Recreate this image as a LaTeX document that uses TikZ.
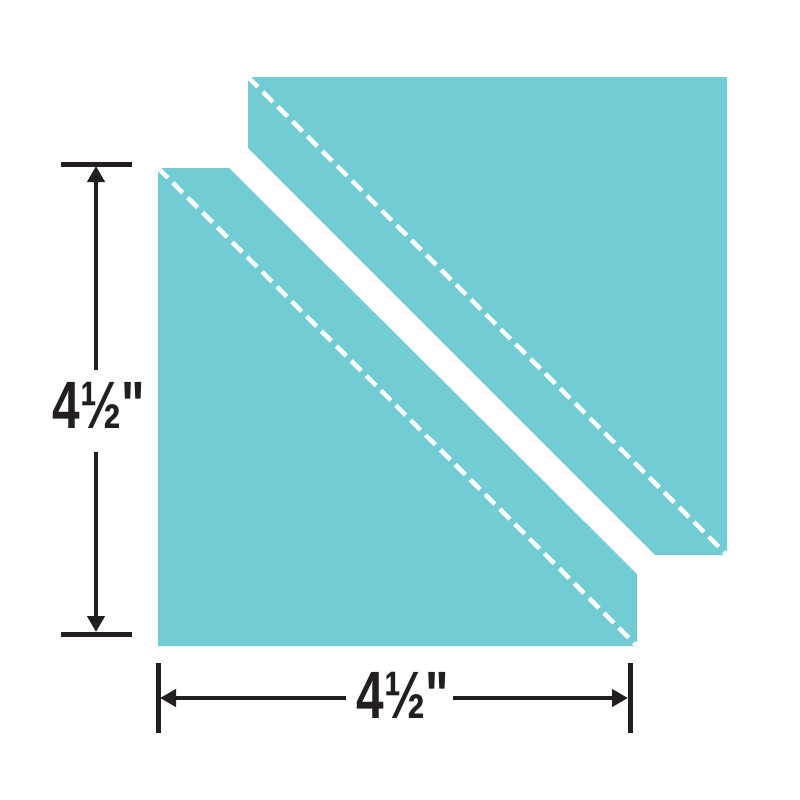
\documentclass[tikz,border=0pt]{standalone}
\usepackage{fontspec}
\newfontfamily\dimfont[FakeStretch=0.74]{Liberation Sans}
\usetikzlibrary{arrows.meta}
\definecolor{teal}{RGB}{113,204,212}
\definecolor{ink}{RGB}{35,31,32}
\tikzset{
  piece/.style={fill=teal, draw=none},
  seam/.style={white, line width=4.5pt, dash pattern=on 14pt off 7pt},
  tick/.style={ink, line width=5pt},
  dimline/.style={ink, line width=4pt},
  dimarrow/.style={dimline, -{Triangle[length=16pt,width=17pt]}},
  dimlabel/.style={text=ink, inner sep=0pt, anchor=base, font=\dimfont\bfseries\fontsize{67}{67}\selectfont}
}
\begin{document}
\begin{tikzpicture}[x=1pt,y=-1pt]
\useasboundingbox (0,0) rectangle (800,800);
% pieces
\coordinate (LA) at (158,168);
\coordinate (LB) at (229,168);
\coordinate (LC) at (637,574);
\coordinate (LD) at (637,646);
\coordinate (LE) at (158,646);
\fill[piece] (LA) -- (LB) -- (LC) -- (LD) -- (LE) -- cycle;
\coordinate (UA) at (248,77);
\coordinate (UB) at (727,77);
\coordinate (UC) at (727,555);
\coordinate (UD) at (655,555);
\coordinate (UE) at (248,148);
\fill[piece] (UA) -- (UB) -- (UC) -- (UD) -- (UE) -- cycle;
\begin{scope}
\clip (LA) -- (LB) -- (LC) -- (LD) -- (LE) -- cycle;
\draw[seam] (LA) -- (LD);
\end{scope}
\begin{scope}
\clip (UA) -- (UB) -- (UC) -- (UD) -- (UE) -- cycle;
\draw[seam] (UA) -- (UC);
\end{scope}
% vertical dimension
\coordinate (vt1) at (61,164);
\coordinate (vt2) at (132,164);
\coordinate (vb1) at (61,634);
\coordinate (vb2) at (132,634);
\draw[tick] (vt1) -- (vt2);
\draw[tick] (vb1) -- (vb2);
\node[dimlabel] (vlab) at (99,428) {4½"};
\coordinate (vg1) at (96,370);
\coordinate (vg2) at (96,452);
\coordinate (vtop) at (96,166);
\coordinate (vbot) at (96,632);
\draw[dimarrow] (vg1) -- (vtop);
\draw[dimarrow] (vg2) -- (vbot);
% horizontal dimension
\coordinate (hl1) at (158,663);
\coordinate (hl2) at (158,733);
\coordinate (hr1) at (630,663);
\coordinate (hr2) at (630,733);
\draw[tick] (hl1) -- (hl2);
\draw[tick] (hr1) -- (hr2);
\node[dimlabel] (hlab) at (403,718) {4½"};
\coordinate (hg1) at (346,698);
\coordinate (hg2) at (453,698);
\coordinate (hleft) at (160,698);
\coordinate (hright) at (628,698);
\draw[dimarrow] (hg1) -- (hleft);
\draw[dimarrow] (hg2) -- (hright);
\end{tikzpicture}
\end{document}
